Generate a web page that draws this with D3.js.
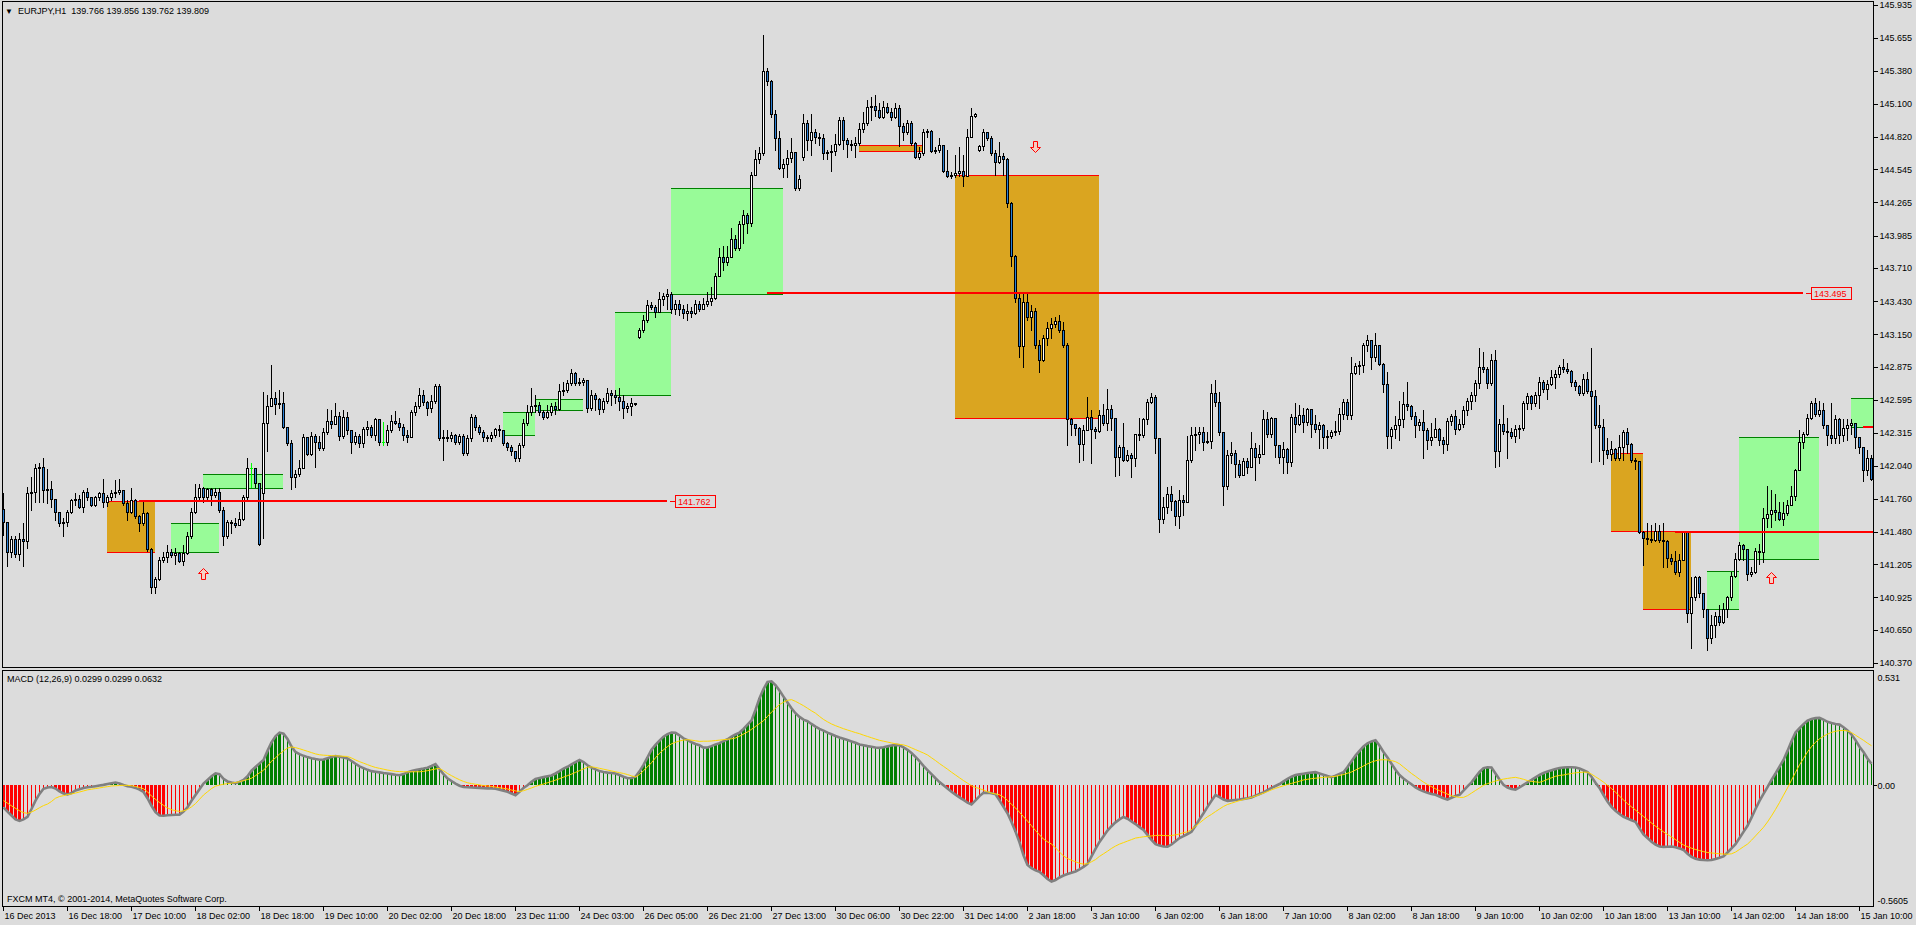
<!DOCTYPE html>
<html>
<head>
<meta charset="utf-8">
<script src="https://cdnjs.cloudflare.com/ajax/libs/d3/7.8.5/d3.min.js"></script>
<style>
  body { margin: 0; background: #dcdcdc; }
  svg { display: block; }
  text { font-family: "Liberation Sans", Arial, sans-serif; font-size: 9px; fill: #000; }
</style>
</head>
<body>
<div id="chart"></div>
<script>
// ---- data (EURJPY H1) ----
const firstOpen = 141.67;
// bars whose open is not the previous close (session gaps)
const gapOpens = {65: 141.81, 159: 143.13, 200: 144.65, 244: 144.71};

const closes = [
  141.56,141.31,141.42,141.29,141.42,141.40,141.81,141.82,142.02,142.03,141.83,141.84,141.76,141.65,141.55,141.56,
  141.65,141.75,141.76,141.69,141.82,141.77,141.71,141.77,141.81,141.73,141.77,141.81,141.82,141.83,141.72,141.65,
  141.75,141.61,141.55,141.64,141.33,141.01,141.08,141.24,141.27,141.31,141.28,141.30,141.23,141.30,141.44,141.65,
  141.77,141.85,141.77,141.84,141.79,141.82,141.66,141.44,141.56,141.55,141.54,141.59,141.77,142.02,142.02,141.89,
  141.38,142.40,142.54,142.61,142.56,142.57,142.37,142.23,141.94,141.97,142.02,142.28,142.14,142.29,142.24,142.19,
  142.32,142.42,142.39,142.46,142.29,142.45,142.34,142.24,142.29,142.23,142.35,142.37,142.30,142.43,142.24,142.24,
  142.34,142.42,142.40,142.37,142.30,142.28,142.49,142.54,142.64,142.58,142.53,142.59,142.71,142.27,142.28,142.27,
  142.30,142.24,142.29,142.15,142.27,142.45,142.37,142.32,142.28,142.27,142.30,142.35,142.34,142.23,142.20,142.16,
  142.10,142.21,142.40,142.49,142.54,142.55,142.49,142.45,142.49,142.54,142.52,142.67,142.68,142.74,142.82,142.74,
  142.75,142.76,142.53,142.64,142.60,142.52,142.59,142.65,142.64,142.62,142.59,142.53,142.54,142.57,142.56,143.19,
  143.27,143.40,143.38,143.34,143.45,143.47,143.49,143.36,143.41,143.36,143.33,143.35,143.33,143.41,143.36,143.41,
  143.43,143.46,143.64,143.80,143.76,143.80,143.96,143.88,144.08,144.16,144.09,144.50,144.63,144.68,145.38,145.29,
  145.01,144.81,144.56,144.59,144.64,144.69,144.39,144.46,144.94,144.79,144.86,144.82,144.81,144.68,144.69,144.70,
  144.76,144.96,144.79,144.76,144.75,144.77,144.89,144.94,145.07,145.08,145.05,144.99,145.07,145.03,144.99,145.06,
  144.91,144.86,144.94,144.77,144.65,144.68,144.86,144.87,144.70,144.71,144.75,144.53,144.49,144.50,144.51,144.53,
  144.49,144.82,145.00,145.01,144.74,144.86,144.81,144.68,144.61,144.66,144.63,144.26,143.81,143.46,143.05,143.42,
  143.30,143.35,143.06,142.93,143.12,143.20,143.24,143.26,143.19,143.06,142.43,142.39,142.36,142.22,142.34,142.45,
  142.35,142.33,142.47,142.40,142.52,142.44,142.11,142.20,142.09,142.13,142.10,142.31,142.30,142.43,142.58,142.62,
  142.27,141.59,141.69,141.80,141.74,141.61,141.75,141.73,142.09,142.30,142.31,142.32,142.24,142.25,142.65,142.58,
  142.32,141.87,142.13,142.15,142.05,141.96,142.08,142.03,142.19,142.11,142.14,142.43,142.31,142.44,142.21,142.11,
  142.18,142.07,142.45,142.39,142.47,142.41,142.52,142.39,142.35,142.38,142.28,142.29,142.32,142.33,142.48,142.58,
  142.47,142.82,142.88,142.89,143.06,143.10,142.96,143.06,142.90,142.73,142.29,142.35,142.38,142.43,142.56,142.54,
  142.46,142.38,142.41,142.34,142.26,142.28,142.35,142.26,142.22,142.42,142.46,142.35,142.39,142.51,142.59,142.64,
  142.74,142.87,142.86,142.74,142.93,142.16,142.39,142.33,142.32,142.29,142.35,142.36,142.57,142.63,142.57,142.64,
  142.75,142.69,142.73,142.79,142.81,142.87,142.86,142.84,142.75,142.71,142.65,142.77,142.67,142.63,142.38,142.37,
  142.17,142.14,142.18,142.10,142.20,142.32,142.22,142.09,142.08,141.48,141.43,141.42,141.41,141.49,141.41,141.40,
  141.26,141.23,141.14,141.24,141.48,140.79,140.93,141.10,140.96,140.83,140.58,140.69,140.77,140.72,140.83,140.93,
  141.11,141.25,141.37,141.33,141.12,141.14,141.32,141.31,141.60,141.63,141.66,141.65,141.59,141.64,141.71,141.78,
  142.00,142.24,142.31,142.44,142.57,142.48,142.51,142.38,142.30,142.27,142.43,142.30,142.36,142.38,142.40,142.28,
  142.20,142.00,142.10,141.93
];

const highs = [
  141.81,141.56,141.44,141.44,141.47,141.55,141.86,141.94,142.05,142.06,142.10,142.01,141.91,141.76,141.65,141.60,
  141.66,141.76,141.81,141.79,141.83,141.85,141.77,141.78,141.82,141.93,141.79,141.83,141.92,141.93,141.83,141.75,
  141.85,141.76,141.62,141.73,141.65,141.34,141.10,141.27,141.31,141.37,141.33,141.34,141.31,141.37,141.48,141.68,
  141.88,141.88,141.86,141.85,141.85,141.85,141.85,141.69,141.58,141.58,141.60,141.65,141.79,142.10,142.06,142.02,
  141.89,142.66,142.64,142.89,142.66,142.68,142.66,142.37,142.26,142.00,142.09,142.31,142.28,142.32,142.31,142.29,
  142.36,142.52,142.51,142.57,142.49,142.51,142.49,142.34,142.32,142.31,142.37,142.42,142.38,142.44,142.43,142.41,
  142.38,142.47,142.50,142.44,142.39,142.34,142.51,142.58,142.70,142.68,142.59,142.64,142.73,142.73,142.34,142.34,
  142.32,142.31,142.31,142.31,142.30,142.48,142.47,142.38,142.34,142.30,142.32,142.36,142.38,142.32,142.24,142.21,
  142.16,142.23,142.43,142.55,142.70,142.64,142.58,142.51,142.55,142.57,142.58,142.73,142.75,142.76,142.86,142.83,
  142.78,142.78,142.76,142.68,142.65,142.61,142.61,142.70,142.68,142.68,142.70,142.64,142.57,142.61,142.57,143.20,
  143.31,143.44,143.42,143.40,143.51,143.50,143.53,143.51,143.44,143.44,143.40,143.41,143.38,143.44,143.43,143.46,
  143.51,143.55,143.67,143.88,143.90,143.90,144.05,143.99,144.11,144.20,144.18,144.52,144.71,144.73,145.68,145.40,
  145.30,145.05,144.87,144.63,144.71,144.81,144.69,144.50,145.01,144.96,145.01,144.89,144.85,144.84,144.71,144.75,
  144.84,144.99,144.99,144.81,144.79,144.82,144.94,145.03,145.13,145.16,145.17,145.11,145.12,145.11,145.06,145.11,
  145.09,144.94,144.96,144.95,144.78,144.73,144.89,144.89,144.88,144.73,144.81,144.75,144.71,144.52,144.67,144.73,
  144.67,144.89,145.06,145.02,144.75,144.89,144.86,144.83,144.71,144.78,144.68,144.64,144.27,143.82,143.49,143.50,
  143.50,143.40,143.37,143.10,143.14,143.25,143.29,143.30,143.31,143.25,143.08,142.44,142.39,142.37,142.38,142.62,
  142.51,142.37,142.51,142.56,142.69,142.55,142.44,142.21,142.40,142.17,142.15,142.31,142.44,142.44,142.60,142.65,
  142.64,142.27,141.77,141.86,141.87,141.75,141.83,141.79,142.29,142.37,142.37,142.37,142.37,142.32,142.73,142.76,
  142.66,142.31,142.17,142.24,142.17,142.09,142.10,142.10,142.32,142.23,142.21,142.51,142.49,142.45,142.44,142.21,
  142.24,142.19,142.48,142.57,142.55,142.53,142.53,142.52,142.47,142.41,142.39,142.34,142.34,142.42,142.53,142.60,
  142.60,142.96,142.91,142.92,143.08,143.14,143.10,143.16,143.06,142.91,142.83,142.37,142.46,142.59,142.66,142.75,
  142.55,142.49,142.43,142.51,142.36,142.40,142.44,142.36,142.28,142.44,142.48,142.51,142.43,142.54,142.61,142.66,
  142.76,143.03,143.00,142.87,142.98,143.02,142.43,142.55,142.44,142.36,142.38,142.38,142.59,142.65,142.64,142.66,
  142.79,142.76,142.76,142.85,142.85,142.89,142.94,142.91,142.85,142.76,142.72,142.81,142.83,143.03,142.68,142.55,
  142.43,142.27,142.25,142.19,142.30,142.34,142.36,142.23,142.10,142.08,141.49,141.55,141.54,141.55,141.54,141.55,
  141.41,141.29,141.32,141.29,141.49,141.49,141.10,141.11,141.11,140.96,140.83,140.78,140.80,140.86,140.88,140.94,
  141.14,141.30,141.39,141.38,141.33,141.18,141.34,141.38,141.68,141.87,141.83,141.80,141.73,141.73,141.75,141.87,
  142.01,142.34,142.32,142.48,142.59,142.61,142.59,142.57,142.38,142.57,142.47,142.44,142.43,142.43,142.43,142.40,
  142.28,142.20,142.17,142.13
];

const lows = [
  141.45,141.19,141.27,141.27,141.24,141.19,141.34,141.66,141.73,141.73,141.73,141.72,141.69,141.58,141.53,141.44,
  141.53,141.64,141.71,141.68,141.65,141.75,141.70,141.70,141.75,141.69,141.70,141.75,141.77,141.80,141.71,141.58,
  141.64,141.60,141.49,141.54,141.32,140.96,140.96,141.07,141.22,141.22,141.27,141.21,141.22,141.20,141.29,141.43,
  141.64,141.76,141.73,141.76,141.71,141.77,141.65,141.37,141.43,141.47,141.52,141.54,141.58,141.76,141.86,141.86,
  141.37,141.43,142.16,142.54,142.48,142.53,142.36,142.21,141.84,141.86,141.95,142.02,142.13,142.13,142.03,142.17,
  142.17,142.31,142.36,142.39,142.26,142.27,142.31,142.15,142.22,142.20,142.20,142.30,142.28,142.26,142.21,142.21,
  142.21,142.32,142.39,142.34,142.26,142.24,142.28,142.47,142.53,142.55,142.47,142.49,142.57,142.26,142.09,142.25,
  142.25,142.22,142.22,142.13,142.13,142.25,142.34,142.31,142.25,142.25,142.25,142.28,142.29,142.21,142.17,142.13,
  142.08,142.08,142.20,142.38,142.47,142.49,142.47,142.43,142.44,142.47,142.48,142.51,142.64,142.66,142.72,142.72,
  142.72,142.72,142.49,142.51,142.51,142.48,142.49,142.57,142.55,142.57,142.51,142.44,142.49,142.47,142.55,143.12,
  143.17,143.25,143.36,143.30,143.34,143.40,143.36,143.33,143.32,143.31,143.29,143.27,143.30,143.32,143.35,143.36,
  143.39,143.40,143.45,143.65,143.69,143.74,143.80,143.86,143.86,143.92,144.01,144.07,144.50,144.60,144.67,145.26,
  144.99,144.71,144.55,144.48,144.48,144.61,144.37,144.37,144.62,144.71,144.67,144.77,144.75,144.63,144.63,144.53,
  144.67,144.75,144.72,144.65,144.71,144.65,144.75,144.86,144.92,144.96,145.00,144.98,144.98,145.02,144.96,144.98,
  144.74,144.79,144.84,144.75,144.64,144.63,144.67,144.82,144.69,144.68,144.69,144.52,144.48,144.47,144.48,144.49,
  144.40,144.49,144.84,144.99,144.70,144.71,144.79,144.67,144.50,144.60,144.50,144.23,143.73,143.42,142.96,142.87,
  143.27,143.19,143.03,142.83,142.92,143.06,143.12,143.21,143.17,143.04,142.21,142.30,142.30,142.07,142.09,142.34,
  142.06,142.27,142.32,142.38,142.34,142.34,141.95,141.96,142.08,142.08,141.94,142.04,142.26,142.28,142.39,142.57,
  142.15,141.48,141.55,141.64,141.66,141.54,141.51,141.62,141.73,142.07,142.17,142.23,142.17,142.23,142.19,142.54,
  142.30,141.71,141.84,142.06,141.94,141.94,141.98,141.98,142.03,141.92,142.06,142.14,142.28,142.28,142.11,142.06,
  141.98,141.98,142.04,142.32,142.38,142.32,142.38,142.28,142.32,142.19,142.19,142.19,142.27,142.30,142.31,142.43,
  142.43,142.43,142.81,142.81,142.83,143.01,142.86,142.92,142.89,142.66,142.19,142.19,142.27,142.26,142.37,142.51,
  142.43,142.28,142.34,142.10,142.18,142.21,142.28,142.21,142.15,142.17,142.38,142.31,142.34,142.37,142.47,142.52,
  142.59,142.70,142.83,142.70,142.72,142.03,142.04,142.31,142.10,142.27,142.24,142.27,142.34,142.52,142.52,142.54,
  142.53,142.66,142.60,142.72,142.70,142.79,142.83,142.82,142.71,142.68,142.64,142.64,142.65,142.07,142.36,142.08,
  142.05,142.10,142.09,142.09,142.09,142.09,142.15,142.07,142.01,141.47,141.20,141.38,141.39,141.40,141.39,141.18,
  141.18,141.21,141.12,141.11,141.24,140.72,140.50,140.90,140.93,140.76,140.48,140.54,140.59,140.69,140.71,140.76,
  140.90,141.10,141.24,141.24,141.07,141.11,141.13,141.21,141.22,141.52,141.52,141.58,141.58,141.54,141.62,141.71,
  141.75,142.00,142.19,142.30,142.43,142.46,142.46,142.36,142.21,142.23,142.23,142.23,142.25,142.26,142.31,142.19,
  142.15,141.91,141.96,141.92
];

// MACD (12,26,9): main value (histogram + grey line) and signal (yellow)
const macdMain = [
  -.102,-.122,-.140,-.158,-.165,-.158,-.146,-.110,-.071,-.040,-.016,-.010,-.008,-.015,-.028,-.038,
  -.042,-.036,-.024,-.018,-.012,-.009,-.007,-.004,-.001,.002,.006,.010,.013,.009,.002,-.004,
  -.007,-.012,-.020,-.031,-.060,-.095,-.125,-.140,-.141,-.139,-.138,-.137,-.136,-.122,-.102,-.072,
  -.045,-.018,.008,.025,.042,.055,.052,.030,.018,.013,.010,.016,.025,.042,.068,.085,
  .102,.118,.160,.200,.228,.245,.240,.215,.180,.155,.145,.137,.131,.126,.122,.119,
  .120,.126,.132,.136,.133,.129,.125,.113,.100,.088,.080,.072,.066,.063,.060,.057,
  .055,.052,.049,.047,.052,.060,.067,.071,.075,.078,.082,.090,.099,.075,.052,.032,
  .020,.008,-.002,-.008,-.009,-.010,-.011,-.012,-.013,-.014,-.015,-.016,-.020,-.025,-.030,-.038,
  -.046,-.030,-.012,.000,.016,.030,.034,.038,.042,.046,.055,.066,.078,.086,.097,.108,
  .118,.108,.093,.082,.074,.066,.062,.059,.057,.055,.048,.040,.033,.034,.040,.065,
  .095,.130,.165,.188,.208,.226,.238,.245,.244,.232,.218,.210,.200,.192,.186,.175,
  .176,.182,.190,.196,.205,.214,.226,.236,.245,.262,.282,.301,.350,.405,.447,.480,
  .483,.465,.440,.412,.385,.358,.335,.318,.305,.298,.285,.273,.262,.254,.245,.237,
  .229,.222,.216,.210,.204,.198,.190,.186,.182,.179,.176,.174,.177,.181,.185,.188,
  .186,.176,.165,.150,.132,.112,.090,.071,.052,.033,.015,.000,-.015,-.030,-.043,-.056,
  -.068,-.080,-.089,-.070,-.050,-.035,-.034,-.037,-.042,-.070,-.100,-.130,-.170,-.215,-.265,-.325,
  -.370,-.385,-.395,-.402,-.418,-.435,-.447,-.440,-.428,-.419,-.412,-.406,-.400,-.390,-.379,-.365,
  -.330,-.295,-.263,-.237,-.210,-.190,-.172,-.158,-.147,-.155,-.168,-.180,-.194,-.207,-.230,-.253,
  -.273,-.280,-.284,-.285,-.275,-.260,-.245,-.236,-.226,-.216,-.188,-.158,-.130,-.100,-.072,-.045,
  -.055,-.066,-.072,-.070,-.068,-.066,-.063,-.060,-.056,-.048,-.040,-.033,-.022,-.012,-.003,.006,
  .018,.030,.040,.048,.051,.054,.057,.059,.061,.055,.049,.043,.038,.045,.053,.061,
  .085,.112,.138,.160,.180,.195,.204,.209,.185,.155,.129,.100,.072,.048,.032,.018,
  .005,-.010,-.020,-.028,-.035,-.040,-.044,-.052,-.060,-.066,-.058,-.050,-.044,-.025,-.005,.014,
  .038,.062,.080,.084,.083,.055,.027,.002,-.010,-.017,-.020,-.010,.002,.014,.025,.037,
  .048,.057,.064,.070,.076,.080,.083,.084,.084,.083,.078,.070,.062,.040,.012,-.012,
  -.045,-.075,-.100,-.118,-.133,-.146,-.154,-.162,-.170,-.200,-.228,-.245,-.262,-.275,-.284,-.286,
  -.285,-.284,-.288,-.293,-.300,-.318,-.332,-.341,-.345,-.347,-.348,-.347,-.342,-.336,-.330,-.312,
  -.293,-.273,-.245,-.216,-.188,-.150,-.110,-.072,-.040,-.008,.025,.055,.087,.118,.160,.205,
  .245,.265,.284,.300,.308,.312,.313,.305,.295,.289,.285,.282,.270,.255,.236,.210,
  .179,.155,.125,.100
];

const macdSignal = [
  -.071,-.083,-.095,-.107,-.118,-.127,-.130,-.124,-.115,-.104,-.094,-.087,-.075,-.060,-.052,-.048,
  -.043,-.040,-.036,-.031,-.026,-.021,-.018,-.015,-.012,-.009,-.006,-.003,-.002,-.001,.000,.000,
  -.002,-.005,-.010,-.016,-.030,-.050,-.065,-.080,-.093,-.105,-.113,-.118,-.121,-.119,-.112,-.100,
  -.085,-.065,-.045,-.030,-.015,-.004,.001,.005,.008,.010,.013,.017,.022,.027,.033,.045,
  .058,.070,.090,.112,.128,.145,.160,.173,.178,.175,.170,.164,.158,.152,.146,.142,
  .140,.139,.138,.137,.136,.135,.134,.127,.118,.110,.103,.096,.089,.083,.079,.075,
  .071,.068,.065,.064,.063,.063,.063,.063,.063,.065,.068,.072,.076,.078,.068,.055,
  .045,.035,.026,.018,.012,.008,.005,.002,-.001,-.003,-.005,-.008,-.011,-.014,-.017,-.022,
  -.026,-.029,-.025,-.019,-.012,-.005,.001,.006,.012,.018,.024,.031,.038,.045,.052,.060,
  .068,.076,.084,.086,.083,.079,.075,.071,.067,.063,.059,.055,.050,.044,.039,.050,
  .068,.086,.105,.128,.149,.165,.180,.193,.200,.206,.210,.212,.210,.207,.204,.205,
  .205,.206,.208,.210,.212,.214,.216,.220,.228,.238,.248,.260,.273,.287,.300,.320,
  .340,.358,.375,.386,.395,.398,.390,.380,.370,.358,.346,.335,.320,.306,.295,.285,
  .277,.270,.263,.257,.251,.245,.240,.233,.227,.221,.215,.209,.205,.201,.197,.193,
  .190,.188,.182,.174,.166,.158,.150,.141,.128,.115,.101,.088,.075,.061,.048,.035,
  .022,.010,-.002,-.010,-.015,-.022,-.030,-.036,-.040,-.044,-.055,-.070,-.088,-.105,-.125,-.146,
  -.166,-.188,-.210,-.230,-.250,-.262,-.273,-.290,-.310,-.328,-.340,-.348,-.355,-.362,-.366,-.364,
  -.355,-.345,-.330,-.318,-.306,-.293,-.282,-.273,-.266,-.259,-.252,-.245,-.242,-.239,-.237,-.235,
  -.233,-.232,-.233,-.234,-.233,-.230,-.226,-.220,-.216,-.205,-.190,-.175,-.160,-.146,-.135,-.122,
  -.110,-.098,-.089,-.083,-.077,-.071,-.066,-.061,-.056,-.050,-.043,-.036,-.029,-.021,-.014,-.008,
  -.002,.004,.009,.014,.019,.025,.028,.031,.033,.035,.037,.038,.040,.042,.046,.050,
  .056,.062,.071,.080,.090,.100,.108,.114,.118,.119,.118,.115,.110,.100,.085,.070,
  .055,.042,.028,.015,.004,-.006,-.016,-.025,-.033,-.041,-.048,-.053,-.056,-.056,-.048,-.036,
  -.024,-.012,.000,.008,.014,.020,.025,.029,.032,.035,.037,.033,.028,.022,.018,.016,
  .014,.020,.028,.035,.042,.046,.048,.052,.055,.058,.060,.061,.061,.052,.040,.028,
  .015,.000,-.015,-.032,-.050,-.068,-.085,-.100,-.115,-.130,-.145,-.160,-.175,-.190,-.203,-.216,
  -.228,-.240,-.252,-.265,-.277,-.285,-.292,-.298,-.303,-.308,-.312,-.314,-.316,-.318,-.319,-.320,
  -.318,-.310,-.298,-.285,-.273,-.255,-.235,-.215,-.195,-.170,-.142,-.112,-.080,-.046,-.012,.024,
  .060,.095,.125,.155,.180,.200,.216,.228,.238,.246,.251,.254,.255,.253,.245,.233,
  .221,.209,.196,.184
];

// axis labels
const priceTicks = [145.935,145.655,145.380,145.100,144.820,144.545,144.265,143.985,143.710,143.430,
  143.150,142.875,142.595,142.315,142.040,141.760,141.480,141.205,140.925,140.650,140.370];
const macdTicks = [0.531, 0, -0.5605];
const macdTickLabels = ["0.531", "0.00", "-0.5605"];
const timeTickBars = d3.range(0, 465, 16);
const timeLabels = ["16 Dec 2013","16 Dec 18:00","17 Dec 10:00","18 Dec 02:00","18 Dec 18:00","19 Dec 10:00",
  "20 Dec 02:00","20 Dec 18:00","23 Dec 11:00","24 Dec 03:00","26 Dec 05:00","26 Dec 21:00","27 Dec 13:00",
  "30 Dec 06:00","30 Dec 22:00","31 Dec 14:00","2 Jan 18:00","3 Jan 10:00","6 Jan 02:00","6 Jan 18:00",
  "7 Jan 10:00","8 Jan 02:00","8 Jan 18:00","9 Jan 10:00","10 Jan 02:00","10 Jan 18:00","13 Jan 10:00",
  "14 Jan 02:00","14 Jan 18:00","15 Jan 10:00"];

// zones drawn on the chart (bar index from/to, price top/bottom)
const boxFrom   = [26, 42, 50, 125, 133, 153, 167, 214, 238, 402, 410, 426, 434, 462];
const boxTo     = [38, 54, 70, 133, 145, 167, 195, 230, 274, 410, 422, 434, 454, 470];
const boxTop    = [141.74,141.55,141.97,142.49,142.60,143.34,144.39,144.75,144.50,142.15,141.49,141.15,142.28,142.61];
const boxBottom = [141.31,141.31,141.85,142.30,142.51,142.64,143.49,144.70,142.44,141.49,140.83,140.83,141.25,142.37];
const boxKind   = ["sell","buy","buy","buy","buy","buy","buy","sell","sell","sell","sell","buy","buy","buy"];

// red levels
const levelPrice = [141.74, 143.50, 141.48, 142.37];
const levelFrom  = [34, 191, 418, 465];
const levelTo    = [166, 450, 470, 470];
const levelText  = ["141.762", "143.495", "", ""];

// signal arrows
const arrowBar   = [50, 258, 442];
const arrowPrice = [141.17, 144.69, 141.14];
const arrowDir   = ["up", "down", "up"];

// ---- layout ----
const width = 1916, height = 925;
const frameRight = 1873.5;
const main = {top: 1.5, bottom: 667.5};
const sub = {top: 670.5, bottom: 906.5};
const colors = {bg: "#dcdcdc", bear: "#2a80d6", bull: "#ffffff", doji: "#00ff00",
  buy: "#98fb98", buyLine: "#008000", sell: "#daa520", sellLine: "#ff0000",
  histUp: "#008000", histDown: "#ff0000", macd: "#808080", signal: "#ffd700"};

const n = closes.length;
const x = d3.scaleLinear().domain([0, n - 1]).range([3, 3 + 4 * (n - 1)]);
const y = d3.scaleLinear().domain(d3.extent(priceTicks)).range([663, 5]);
const ym = d3.scaleLinear().domain([-0.5605, 0.531]).range([906, 671]);
const snap = v => Math.round(v) + 0.5;

const bars = d3.range(n).map(i => {
  const open = gapOpens[i] !== undefined ? gapOpens[i] : (i === 0 ? firstOpen : closes[i - 1]);
  const close = closes[i];
  return {i, open, close,
    high: Math.max(highs[i], open, close),
    low: Math.min(lows[i], open, close)};
});

const svg = d3.select("#chart").append("svg")
  .attr("width", width).attr("height", height)
  .style("background", colors.bg);

const defs = svg.append("defs");
defs.append("clipPath").attr("id", "clipMain").append("rect")
  .attr("x", 3).attr("y", 2).attr("width", 1870).attr("height", 665);
defs.append("clipPath").attr("id", "clipSub").append("rect")
  .attr("x", 3).attr("y", 671).attr("width", 1870).attr("height", 235);

const gMain = svg.append("g").attr("clip-path", "url(#clipMain)").attr("shape-rendering", "crispEdges");

// zones
const boxes = boxFrom.map((f, k) => ({f, t: boxTo[k], top: boxTop[k], bot: boxBottom[k], kind: boxKind[k]}));
gMain.selectAll("rect.zone").data(boxes).join("rect")
  .attr("class", "zone")
  .attr("x", d => x(d.f)).attr("width", d => x(d.t) - x(d.f))
  .attr("y", d => Math.round(y(d.top))).attr("height", d => Math.round(y(d.bot)) - Math.round(y(d.top)))
  .attr("fill", d => colors[d.kind]);
boxes.forEach(d => {
  [d.top, d.bot].forEach(p => {
    gMain.append("line")
      .attr("x1", x(d.f)).attr("x2", x(d.t))
      .attr("y1", snap(y(p))).attr("y2", snap(y(p)))
      .attr("stroke", colors[d.kind + "Line"]).attr("stroke-width", 1);
  });
});

// candles
const gCandle = gMain.append("g");
gCandle.selectAll("line.wick").data(bars).join("line")
  .attr("class", "wick")
  .attr("x1", d => x(d.i) + 0.5).attr("x2", d => x(d.i) + 0.5)
  .attr("y1", d => Math.round(y(d.high))).attr("y2", d => Math.round(y(d.low)) + 1)
  .attr("stroke", d => d.open === d.close ? colors.doji : "#000");

bars.forEach(d => {
  const t = snap(y(Math.max(d.open, d.close)));
  const b = snap(y(Math.min(d.open, d.close)));
  const cx = x(d.i);
  if (d.open === d.close || b - t < 1) {
    gCandle.append("line")
      .attr("x1", cx - 1).attr("x2", cx + 2).attr("y1", t).attr("y2", t)
      .attr("stroke", d.open === d.close ? colors.doji : "#000");
  } else {
    gCandle.append("rect")
      .attr("x", cx - 0.5).attr("width", 2)
      .attr("y", t).attr("height", b - t)
      .attr("fill", d.close > d.open ? colors.bull : colors.bear)
      .attr("stroke", "#000").attr("stroke-width", 1);
  }
});

// red levels with price tags
levelPrice.forEach((p, k) => {
  const yy = Math.round(y(p));
  const x1 = x(levelFrom[k]), x2 = Math.min(x(levelTo[k]), 1873);
  gMain.append("rect").attr("x", x1).attr("y", yy - 1).attr("width", x2 - x1).attr("height", 2)
    .attr("fill", "#ff0000");
  if (levelText[k]) {
    const tx = x2 + 8;
    gMain.append("line").attr("x1", x2 + 3).attr("x2", tx).attr("y1", yy + 0.5).attr("y2", yy + 0.5)
      .attr("stroke", "#ff0000");
    gMain.append("rect").attr("x", tx + 0.5).attr("y", yy - 5.5).attr("width", 40).attr("height", 12)
      .attr("fill", colors.bg).attr("stroke", "#ff0000");
    gMain.append("text").attr("x", tx + 3).attr("y", yy + 4)
      .style("fill", "#ff0000").attr("shape-rendering", null).text(levelText[k]);
  }
});

// arrows
arrowBar.forEach((b, k) => {
  const cx = x(b) + 0.5;
  const tip = snap(y(arrowPrice[k]));
  const s = arrowDir[k] === "up" ? 1 : -1;
  const pts = [[0, 0], [5, 5], [2, 5], [2, 11], [-2, 11], [-2, 5], [-5, 5]]
    .map(([dx, dy]) => [cx + dx, tip + s * dy]);
  svg.append("path").attr("d", d3.line()(pts) + "Z")
    .attr("fill", "#f6cfc4").attr("stroke", "#ff0000").attr("stroke-width", 1);
});

// MACD pane
const gSub = svg.append("g").attr("clip-path", "url(#clipSub)");
const zero = Math.round(ym(0));
gSub.selectAll("rect.hist").data(macdMain).join("rect")
  .attr("class", "hist").attr("shape-rendering", "crispEdges")
  .attr("x", (v, i) => {
    const grow = i === 0 || Math.abs(v) > Math.abs(macdMain[i - 1]);
    return grow ? x(i) - 1 : x(i);
  })
  .attr("width", (v, i) => (i === 0 || Math.abs(v) > Math.abs(macdMain[i - 1])) ? 3 : 1)
  .attr("y", v => Math.min(zero, Math.round(ym(v))))
  .attr("height", v => Math.abs(Math.round(ym(v)) - zero))
  .attr("fill", v => v >= 0 ? colors.histUp : colors.histDown);

gSub.append("path").datum(macdMain)
  .attr("d", d3.line().x((v, i) => x(i) + 0.5).y(v => ym(v)))
  .attr("fill", "none").attr("stroke", colors.macd).attr("stroke-width", 2.6);
gSub.append("path").datum(macdSignal)
  .attr("d", d3.line().x((v, i) => x(i) + 0.5).y(v => ym(v)))
  .attr("fill", "none").attr("stroke", colors.signal).attr("stroke-width", 1);

// frames
svg.append("rect").attr("x", 2.5).attr("y", main.top).attr("width", frameRight - 2.5)
  .attr("height", main.bottom - main.top).attr("fill", "none").attr("stroke", "#000")
  .attr("shape-rendering", "crispEdges");
svg.append("rect").attr("x", 2.5).attr("y", sub.top).attr("width", frameRight - 2.5)
  .attr("height", sub.bottom - sub.top).attr("fill", "none").attr("stroke", "#000")
  .attr("shape-rendering", "crispEdges");

// axes
function styleAxis(g) {
  g.select(".domain").remove();
  g.attr("font-family", null).attr("font-size", null);
  g.selectAll(".tick line").attr("stroke", "#000").attr("shape-rendering", "crispEdges");
  g.selectAll(".tick text").style("fill", "#000");
}

svg.append("g").attr("transform", `translate(${frameRight},0)`)
  .call(d3.axisRight(y).tickValues(priceTicks).tickFormat(d3.format(".3f")).tickSize(4).tickPadding(2))
  .call(styleAxis);

const macdAxis = svg.append("g").attr("transform", `translate(${frameRight},0)`)
  .call(d3.axisRight(ym).tickValues(macdTicks).tickFormat((d, i) => macdTickLabels[i]).tickSize(3).tickPadding(1))
  .call(styleAxis);
macdAxis.selectAll(".tick").filter(d => d !== 0).select("line").remove();
macdAxis.selectAll(".tick text").attr("dy", d => d > 0 ? "1.0em" : d < 0 ? "-0.25em" : "0.32em");

svg.append("g").attr("transform", `translate(0,${sub.bottom})`)
  .call(d3.axisBottom(x).tickValues(timeTickBars).tickFormat((d, i) => timeLabels[i]).tickSize(4).tickPadding(2))
  .call(styleAxis)
  .call(g => g.selectAll(".tick text").attr("text-anchor", "start").attr("x", 1));

// captions
svg.append("text").attr("x", 5).attr("y", 14).style("font-size", "8px").text("\u25BC");
svg.append("text").attr("x", 18).attr("y", 14).style("white-space", "pre")
  .text("EURJPY,H1  139.766 139.856 139.762 139.809");
svg.append("text").attr("x", 7).attr("y", 682).text("MACD (12,26,9) 0.0299 0.0299 0.0632");
svg.append("text").attr("x", 7).attr("y", 902).text("FXCM MT4, \u00A9 2001-2014, MetaQuotes Software Corp.");
</script>
</body>
</html>
